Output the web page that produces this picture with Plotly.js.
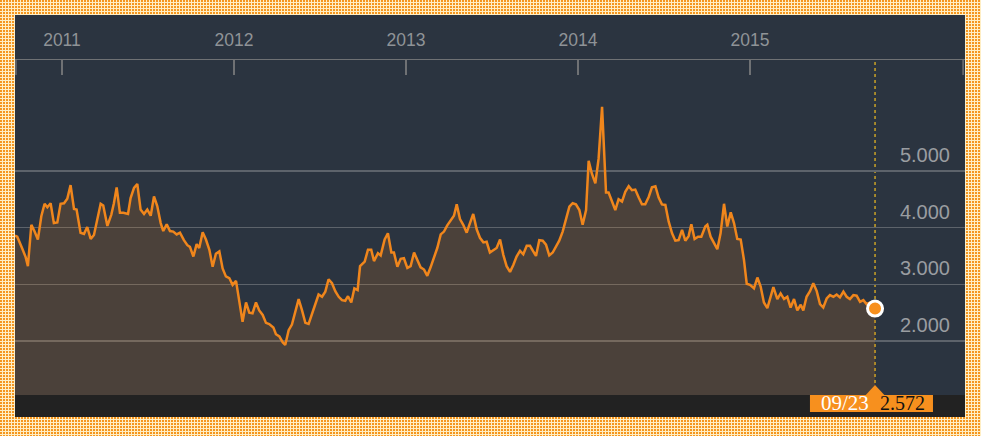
<!DOCTYPE html>
<html>
<head>
<meta charset="utf-8">
<script src="https://cdn.plot.ly/plotly-3.0.1.min.js"></script>
<style>
  html, body { margin: 0; padding: 0; }
  body {
    width: 981px;
    height: 436px;
    position: relative;
    overflow: hidden;
    background-color: #f5961f;
    background-image:
      linear-gradient(90deg, rgba(255,255,255,0) 2px, #ffeec4 2px),
      linear-gradient(180deg, rgba(255,255,255,0) 2px, #ffeec4 2px);
    background-size: 3px 3px;
  }
  #chart { position: absolute; left: 15px; top: 15px; width: 950px; height: 402px; }
</style>
</head>
<body>
<div id="chart"></div>
<script>
// weekly closes, x as decimal year
const years = [
  2010.727, 2010.740, 2010.769, 2010.789, 2010.802, 2010.822, 2010.841, 2010.860, 2010.880, 2010.899,
  2010.915, 2010.934, 2010.953, 2010.973, 2010.992, 2011.012, 2011.031, 2011.050, 2011.070, 2011.085,
  2011.108, 2011.128, 2011.147, 2011.167, 2011.186, 2011.205, 2011.225, 2011.240, 2011.264, 2011.287,
  2011.302, 2011.318, 2011.337, 2011.357, 2011.384, 2011.399, 2011.419, 2011.438, 2011.457, 2011.477,
  2011.496, 2011.516, 2011.535, 2011.554, 2011.574, 2011.589, 2011.609, 2011.628, 2011.647, 2011.667,
  2011.686, 2011.709, 2011.729, 2011.744,
  2011.764, 2011.783, 2011.798, 2011.818, 2011.837, 2011.857, 2011.876, 2011.895, 2011.915, 2011.934,
  2011.953, 2011.973, 2011.992, 2012.012, 2012.031, 2012.050, 2012.070, 2012.089, 2012.108, 2012.128,
  2012.147, 2012.167, 2012.186, 2012.205, 2012.229, 2012.244, 2012.264, 2012.283, 2012.298, 2012.318,
  2012.337, 2012.357, 2012.376, 2012.395, 2012.415, 2012.434, 2012.453, 2012.473, 2012.492, 2012.512,
  2012.531, 2012.550, 2012.570, 2012.589, 2012.609, 2012.628, 2012.647, 2012.663, 2012.682, 2012.700,
  2012.719, 2012.733,
  2012.760, 2012.779, 2012.798, 2012.814, 2012.837, 2012.853, 2012.876, 2012.895, 2012.915, 2012.930,
  2012.950, 2012.969, 2012.988, 2013.008, 2013.027, 2013.047, 2013.066, 2013.085, 2013.105, 2013.124,
  2013.143, 2013.163, 2013.182, 2013.202, 2013.221, 2013.240, 2013.260, 2013.279, 2013.295, 2013.314,
  2013.333, 2013.353, 2013.372, 2013.391, 2013.411, 2013.430, 2013.450, 2013.469, 2013.488, 2013.508,
  2013.527, 2013.547, 2013.566, 2013.585, 2013.605, 2013.624, 2013.643, 2013.663, 2013.682, 2013.702,
  2013.721, 2013.740,
  2013.756, 2013.775, 2013.795, 2013.814, 2013.833, 2013.853, 2013.872, 2013.891, 2013.911, 2013.930,
  2013.950, 2013.969, 2013.988, 2014.008, 2014.027, 2014.047, 2014.062, 2014.081, 2014.101, 2014.120,
  2014.140, 2014.163, 2014.178, 2014.198, 2014.217, 2014.236, 2014.256, 2014.275, 2014.295, 2014.314,
  2014.333, 2014.353, 2014.372, 2014.391, 2014.411, 2014.430, 2014.450, 2014.469, 2014.488, 2014.508,
  2014.527, 2014.547, 2014.566, 2014.585, 2014.605, 2014.624, 2014.643, 2014.659, 2014.678, 2014.698,
  2014.717, 2014.740,
  2014.752, 2014.771, 2014.791, 2014.810, 2014.829, 2014.849, 2014.868, 2014.888, 2014.907, 2014.926,
  2014.946, 2014.965, 2014.981, 2015.000, 2015.023, 2015.043, 2015.062, 2015.081, 2015.101, 2015.120,
  2015.136, 2015.159, 2015.178, 2015.198, 2015.217, 2015.236, 2015.256, 2015.275, 2015.295, 2015.310,
  2015.329, 2015.349, 2015.368, 2015.388, 2015.407, 2015.426, 2015.446, 2015.465, 2015.485, 2015.504,
  2015.523, 2015.543, 2015.562, 2015.581, 2015.601, 2015.620, 2015.640, 2015.659, 2015.678, 2015.698,
  2015.727
];

const values = [
  3.86, 3.84, 3.63, 3.48, 3.32, 4.05, 3.93, 3.79, 4.20, 4.42,
  4.36, 4.43, 4.08, 4.09, 4.42, 4.43, 4.51, 4.75, 4.33, 4.32,
  3.91, 3.89, 4.01, 3.80, 3.87, 4.14, 4.42, 4.39, 4.03, 4.23,
  4.43, 4.71, 4.26, 4.26, 4.24, 4.52, 4.70, 4.77, 4.32, 4.24,
  4.32, 4.21, 4.55, 4.38, 4.08, 3.94, 4.06, 3.94, 3.93, 3.88,
  3.91, 3.78, 3.69, 3.66,
  3.49, 3.71, 3.64, 3.92, 3.79, 3.61, 3.31, 3.54, 3.58, 3.28,
  3.14, 3.11, 2.99, 3.06, 2.72, 2.34, 2.68, 2.50, 2.49, 2.68,
  2.54, 2.46, 2.32, 2.30, 2.24, 2.12, 2.08, 1.98, 1.93, 2.19,
  2.29, 2.52, 2.74, 2.55, 2.32, 2.30, 2.46, 2.64, 2.82, 2.78,
  2.87, 3.09, 3.02, 2.88, 2.78, 2.72, 2.71, 2.79, 2.68, 2.93,
  2.90, 3.32,
  3.40, 3.61, 3.61, 3.41, 3.55, 3.51, 3.79, 3.90, 3.56, 3.56,
  3.31, 3.45, 3.46, 3.29, 3.32, 3.56, 3.43, 3.30, 3.26, 3.15,
  3.30, 3.46, 3.64, 3.88, 3.93, 4.04, 4.12, 4.21, 4.41, 4.15,
  4.05, 3.91, 4.08, 4.24, 3.97, 3.82, 3.74, 3.75, 3.56, 3.60,
  3.64, 3.79, 3.52, 3.32, 3.22, 3.34, 3.49, 3.59, 3.53, 3.68,
  3.68, 3.58,
  3.50, 3.78, 3.77, 3.70, 3.51, 3.56, 3.67, 3.77, 3.93, 4.13,
  4.37, 4.43, 4.41, 4.31, 4.05, 4.31, 5.18, 4.95, 4.78, 5.22,
  6.13, 4.62, 4.62, 4.46, 4.31, 4.50, 4.46, 4.63, 4.73, 4.66,
  4.67, 4.53, 4.41, 4.41, 4.54, 4.71, 4.73, 4.53, 4.41, 4.40,
  4.11, 3.90, 3.77, 3.78, 3.96, 3.77, 3.85, 4.06, 3.80, 3.84,
  3.84, 4.02,
  4.05, 3.84, 3.74, 3.62, 3.90, 4.42, 4.02, 4.27, 4.08, 3.80,
  3.79, 3.43, 3.01, 2.99, 2.93, 3.12, 2.96, 2.68, 2.58, 2.79,
  2.95, 2.74, 2.84, 2.74, 2.78, 2.59, 2.74, 2.54, 2.64, 2.54,
  2.78, 2.88, 3.02, 2.88, 2.65, 2.59, 2.75, 2.81, 2.78, 2.82,
  2.77, 2.87, 2.78, 2.74, 2.81, 2.80, 2.69, 2.72, 2.65, 2.68,
  2.572
];

const yearTicks = [2011, 2012, 2013, 2014, 2015];
const yearLabels = ['2011', '2012', '2013', '2014', '2015'];
const valueTicks = [2, 3, 4, 5];
const valueLabels = ['2.000', '3.000', '4.000', '5.000'];
const lastDateLabel = '09/23';

const ORANGE = '#f0861c';
const BG = '#2b3440';
const PLOT_H = 335; // px height of plot area, for paper offsets

const lastX = years[years.length - 1];
const lastY = values[values.length - 1];

const traces = [
  {
    type: 'scatter',
    mode: 'lines',
    x: years,
    y: values,
    line: { color: ORANGE, width: 2.5 },
    fill: 'tozeroy',
    fillcolor: 'rgba(242,138,30,0.16)',
    hoverinfo: 'skip',
  },
  {
    type: 'scatter',
    mode: 'markers',
    x: [lastX],
    y: [lastY],
    marker: { size: 15, color: '#f7901e', line: { color: '#ffffff', width: 3 } },
    cliponaxis: false,
    hoverinfo: 'skip',
  },
];

const layout = {
  width: 950,
  height: 402,
  margin: { l: 0, r: 0, t: 45, b: 22, pad: 0 },
  paper_bgcolor: BG,
  plot_bgcolor: BG,
  showlegend: false,
  xaxis: {
    type: 'linear',
    range: [2010.727, 2016.25],
    side: 'top',
    showline: true,
    linecolor: '#6f7174',
    linewidth: 1.5,
    ticks: 'inside',
    ticklen: 15,
    tickwidth: 1.5,
    tickcolor: '#6f7174',
    tickvals: yearTicks,
    ticktext: yearLabels,
    ticklabelstandoff: 6,
    tickfont: { family: 'Liberation Sans, Arial, sans-serif', size: 17.5, color: '#8f9397' },
    showgrid: false,
    zeroline: false,
    fixedrange: true,
  },
  yaxis: {
    range: [1.048, 6.956],
    side: 'right',
    tickvals: valueTicks,
    ticktext: valueLabels,
    ticks: '',
    ticklabelposition: 'inside',
    ticklabelshift: -16,
    ticklabelstandoff: 12,
    tickfont: { family: 'Liberation Sans, Arial, sans-serif', size: 20, color: '#9a9da1' },
    showgrid: true,
    gridcolor: '#5d636b',
    gridwidth: 1.5,
    zeroline: false,
    showline: false,
    fixedrange: true,
  },
  shapes: [
    // dark strip under the plot
    { type: 'rect', xref: 'paper', yref: 'paper', x0: 0, x1: 1, y0: -22 / PLOT_H, y1: 0,
      fillcolor: '#222222', line: { width: 0 } },
    // end ticks of the top axis
    { type: 'line', xref: 'paper', yref: 'paper', x0: 0.001, x1: 0.001, y0: 1, y1: 1 - 15 / PLOT_H,
      line: { color: '#6f7174', width: 1.5 } },
    { type: 'line', xref: 'paper', yref: 'paper', x0: 0.998, x1: 0.998, y0: 1, y1: 1 - 15 / PLOT_H,
      line: { color: '#6f7174', width: 1.5 } },
    // dotted marker line at the last date
    { type: 'line', xref: 'x', yref: 'paper', x0: lastX, x1: lastX, y0: 0, y1: 1, layer: 'below',
      line: { color: '#c9a227', width: 1.5, dash: 'dot' } },
    // label box and its pointer
    { type: 'rect', xref: 'paper', yref: 'paper', x0: 0.8368, x1: 0.9663, y0: -17 / PLOT_H, y1: 0,
      fillcolor: '#f7901e', line: { width: 0 } },
    { type: 'path', xref: 'x', yref: 'paper',
      path: `M ${lastX - 0.054},0 L ${lastX},${10 / PLOT_H} L ${lastX + 0.054},0 Z`,
      fillcolor: '#f7901e', line: { width: 0 } },
  ],
  annotations: [
    { xref: 'paper', yref: 'paper', x: 0.8737, y: -8 / PLOT_H, showarrow: false,
      text: lastDateLabel, xanchor: 'center', yanchor: 'middle',
      font: { family: 'Liberation Serif, Times New Roman, serif', size: 21, color: '#ffffff' } },
    { xref: 'paper', yref: 'paper', x: 0.9337, y: -8 / PLOT_H, showarrow: false,
      text: lastY.toFixed(3), xanchor: 'center', yanchor: 'middle',
      font: { family: 'Liberation Serif, Times New Roman, serif', size: 20, color: '#111111' } },
  ],
};

Plotly.newPlot('chart', traces, layout, { displayModeBar: false, staticPlot: true });
</script>
</body>
</html>
